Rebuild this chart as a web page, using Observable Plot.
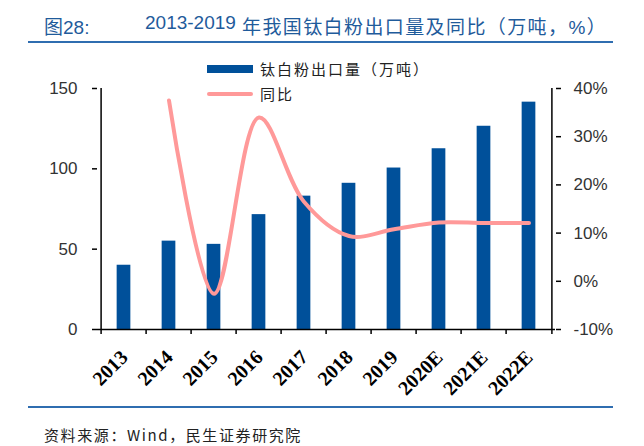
<!DOCTYPE html>
<html>
<head>
<meta charset="utf-8">
<script src="https://cdn.jsdelivr.net/npm/d3@7"></script>
<script src="https://cdn.jsdelivr.net/npm/@observablehq/plot@0.6"></script>
<style>
  html, body { margin: 0; padding: 0; background: #fff; }
  #wrap { position: relative; width: 644px; height: 446px; overflow: hidden; font-family: "Liberation Sans", Arial, sans-serif; }
  #chart { position: absolute; left: 0; top: 0; }
  .title { position: absolute; top: 12px; color: #1F5B9B; font-size: 19px; font-family: "Liberation Sans", "Noto Sans CJK SC", sans-serif; white-space: nowrap; }
  .hline { position: absolute; left: 28px; width: 585px; height: 2px; background: #2F6DB0; }
  .legend { position: absolute; left: 207px; font-family: "Noto Sans CJK SC", sans-serif; font-size: 15px; color: #222; letter-spacing: 2px; white-space: nowrap; }
  .sw { position: absolute; left: 0; width: 46px; }
  .lt { position: absolute; left: 53px; top: -11px; }
  .source { position: absolute; left: 44px; top: 424px; font-family: "Noto Sans CJK SC", sans-serif; font-size: 15px; color: #222; letter-spacing: 1.6px; white-space: nowrap; }
</style>
</head>
<body>
<div id="wrap">
  <div id="chart"></div>
  <div class="title" style="left:44px;">图28:</div>
  <div class="title" style="left:145px;">2013-2019</div>
  <div class="title" style="left:242px; letter-spacing:1.4px;">年我国钛白粉出口量及同比（万吨，%）</div>
  <div class="hline" style="top:41px;"></div>
  <div class="legend" style="top:69px;"><div class="sw" style="top:-4px;height:8px;background:#00509A;"></div><div class="lt">钛白粉出口量（万吨）</div></div>
  <div class="legend" style="top:94px;"><div class="sw" style="top:-2px;height:4px;background:#FF9999;border-radius:2px;"></div><div class="lt">同比</div></div>
  <div class="hline" style="top:406px;"></div>
  <div class="source">资料来源：Wind，民生证券研究院</div>
</div>
<script>
const years = ["2013", "2014", "2015", "2016", "2017", "2018", "2019", "2020E", "2021E", "2022E"];
const volume = [40, 55, 53, 71.5, 83, 91, 100.5, 112.5, 126.5, 141.5];
const yoy = [null, 37.5, -2.6, 34, 16.5, 9.4, 10.8, 12.2, 12.1, 12.1];
const leftTicks = [0, 50, 100, 150];
const rightTicks = [-10, 0, 10, 20, 30, 40];

// right axis (%) mapped onto the left scale: -10% -> 0, 40% -> 150
const toLeft = p => (p + 10) * 3;
const fromLeft = v => Math.round(v / 3 - 10);

const bars = years.map((y, i) => ({year: y, value: volume[i]}));
const growth = years.map((y, i) => ({year: y, pct: yoy[i]})).filter(d => d.pct != null);

const W = 644, H = 446;
const mL = 97, mR = 89, mT = 88, mB = 117;
const bw = (W - mL - mR) / years.length;

const chart = Plot.plot({
  width: W,
  height: H,
  marginLeft: mL,
  marginRight: mR,
  marginTop: mT,
  marginBottom: mB,
  style: {background: "transparent", overflow: "visible"},
  x: {type: "band", domain: years, padding: 0, axis: null},
  y: {domain: [0, 150], axis: null},
  marks: [
    Plot.barY(bars, {x: "year", y: "value", fill: "#00509A", insetLeft: (bw - 14.5) / 2, insetRight: (bw - 14.5) / 2}),
    Plot.line(growth, {x: "year", y: d => toLeft(d.pct), stroke: "#FF9999", strokeWidth: 4, curve: "catmull-rom"}),
    // axis lines
    Plot.ruleY([0], {stroke: "#000", strokeWidth: 1.5}),
    Plot.ruleX([years[0]], {y1: 0, y2: 150, dx: -bw / 2, stroke: "#000", strokeWidth: 1.5}),
    Plot.ruleX([years[years.length - 1]], {y1: 0, y2: 150, dx: bw / 2, stroke: "#000", strokeWidth: 1.5}),
    // x ticks at band boundaries
    Plot.ruleX(years, {y1: 0, y2: -3.1, dx: -bw / 2, stroke: "#000", strokeWidth: 1.5}),
    Plot.ruleX([years[years.length - 1]], {y1: 0, y2: -3.1, dx: bw / 2, stroke: "#000", strokeWidth: 1.5}),
    // x tick labels
    Plot.text(years, {x: d => d, y: 0, text: d => d, rotate: -45, textAnchor: "end", dx: 5, dy: 29,
      fontFamily: "Liberation Serif, Times New Roman, serif", fontWeight: "bold", fontSize: 20, fill: "#000", lineAnchor: "bottom"}),
    Plot.axisY({anchor: "left", ticks: leftTicks, tickSize: 5, tickPadding: 15, fontSize: 17, label: null,
      stroke: "#000", strokeWidth: 1.5, fill: "#333", fontFamily: "Liberation Sans, Arial, sans-serif"}),
    Plot.axisY({anchor: "right", ticks: rightTicks.map(toLeft), tickFormat: v => `${fromLeft(v)}%`, tickSize: 5, tickPadding: 13,
      fontSize: 17, label: null, stroke: "#000", strokeWidth: 1.5, fill: "#333", fontFamily: "Liberation Sans, Arial, sans-serif"})
  ]
});
document.getElementById("chart").appendChild(chart);
</script>
</body>
</html>
